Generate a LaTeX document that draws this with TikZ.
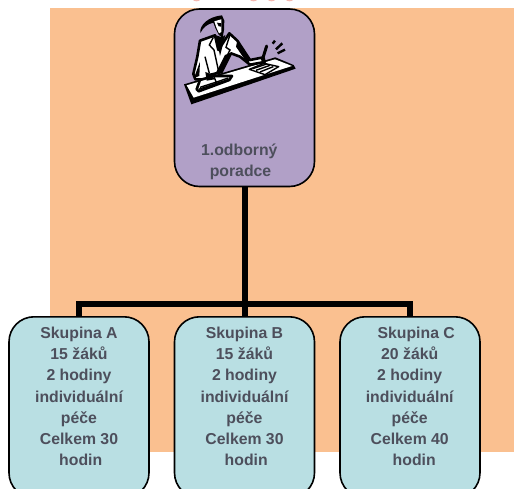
\documentclass[tikz,border=0pt]{standalone}
\usepackage{fontspec}
\setmainfont{Liberation Sans}
\definecolor{bgorange}{HTML}{FAC090}
\definecolor{boxpurple}{HTML}{B1A0C7}
\definecolor{boxteal}{HTML}{B9DFE3}
\definecolor{txtgrey}{HTML}{4D4F5C}
\definecolor{topPink}{HTML}{F4B8B0}
\tikzset{
  box/.style={draw=black,line width=1.6pt,rounded corners=25pt,minimum width=140pt,inner sep=0pt,
     font=\fontsize{15.8pt}{21.25pt}\bfseries\selectfont,text=txtgrey,align=center},
  groupbox/.style={box,fill=boxteal,minimum height=181pt,anchor=north,text height=0pt},
  conn/.style={draw=black,line width=6pt,line join=miter},
  paper/.style={fill=white,draw=black,line width=2.6pt,line join=round},
  thin/.style={draw=black,line width=1.4pt}
}
\begin{document}
\begin{tikzpicture}[x=1pt,y=-1pt]
\useasboundingbox (0,0) rectangle (514,489);
\clip (0,0) rectangle (514,489);
\fill[bgorange] (50,8) rectangle (514,452);
\foreach \xa in {196.5,253.5,271.5,289.5}
  \fill[topPink] (\xa,-0.3) ellipse [x radius=3.5pt,y radius=1.6pt];
\node[box,fill=boxpurple,minimum height=177.5pt,anchor=north] (top) at (244.5,8.2) {};
\node[font=\fontsize{15.8pt}{21.25pt}\bfseries\selectfont,text=txtgrey,align=center,inner sep=0pt] (toplabel) at (239.3,161.5) {1.odborný\\\hspace*{2.4pt}poradce};
\node[groupbox] (a) at (79,316) {};
\node[groupbox] (b) at (244.5,316) {};
\node[groupbox] (c) at (410,316) {};
\node[box,draw=none,minimum width=0pt,rounded corners=0pt] (ta) at (79,396.5) {Skupina A\\15 žáků\\2 hodiny\\individuální\\péče\\Celkem 30\\\hspace*{3.4pt}hodin};
\node[box,draw=none,minimum width=0pt,rounded corners=0pt] (tb) at (244.5,396.5) {Skupina B\\15 žáků\\2 hodiny\\individuální\\péče\\Celkem 30\\\hspace*{3.4pt}hodin};
\node[box,draw=none,minimum width=0pt,rounded corners=0pt] (tc) at (409.7,396.5) {\hspace*{13pt}Skupina C\\20 žáků\\2 hodiny\\individuální\\péče\\Celkem 40\\\hspace*{9pt}hodin};
\draw[conn] (top.south) -- (244.5,316.5);
\draw[conn] (a.north) |- (c.north |- 0,304) -- (c.north);
% clip-art figure, drawn in 3x coordinates of the purple box region
\begin{scope}[shift={(150,0)},x=0.3333pt,y=-0.3333pt]
  % desk
  \fill[black] (102,253) -- (124,313) -- (437,206) -- (431,195) -- (376,172) -- cycle;
  \fill[white] (110,256) -- (131,293) -- (426,198) -- (375,178) -- cycle;
  % body
  \path[paper] (150,122) -- (195,106) -- (205,150) -- (238,100) -- (262,122) -- (300,180) -- (340,172) -- (344,186) -- (300,194) -- (270,170) -- (243,160) -- (215,216) -- (178,225) -- (170,238) -- (136,238) -- (130,222) -- (142,170) -- cycle;
  \fill[black] (198,106) -- (210,168) -- (226,105) -- (216,112) -- cycle;
  \fill[black] (225,165) -- (243,158) -- (215,216) -- (196,222) -- cycle;
  \fill[black] (132,234) -- (150,185) -- (148,228) -- cycle;
  \fill[black] (262,122) -- (300,182) -- (292,190) -- (258,140) -- cycle;
  \draw[thin] (190,112) -- (178,135) -- (192,150) -- (205,210);
  \draw[thin] (240,104) -- (228,142) -- (240,150) -- (222,185);
  \draw[thin] (165,170) -- (178,220);
  % head
  \fill[black] (151,99) .. controls (148,75) and (175,50) .. (216,46) -- (223,62) -- (222,90) -- (218,114) -- (206,104) -- (196,84) -- (190,68) .. controls (172,72) and (160,82) .. cycle;
  \fill[white] (193,64) -- (214,58) -- (214,96) -- (207,100) -- (199,82) -- cycle;
  \fill[black] (201,68) -- (214,70) -- (214,80) -- (206,79) -- cycle;
  % book
  \path[paper] (140,268) -- (150,240) -- (192,228) -- (246,228) -- (238,240) -- (146,274) -- cycle;
  \draw[thin] (150,262) -- (200,246) -- (235,234);
  \draw[thin] (146,268) -- (200,250) -- (238,238);
  \draw[thin] (192,230) -- (200,250);
  \fill[black] (166,216) -- (182,222) -- (194,238) -- (170,242) -- cycle;
  % note pad
  \path[paper,line width=1.4pt] (298,208) -- (345,224) -- (386,200) -- (342,190) -- cycle;
  \draw[thin] (308,206) -- (350,192);
  \draw[thin] (318,211) -- (360,196);
  \draw[thin] (330,216) -- (370,200);
  % pen and sparks
  \draw[line width=3pt,line cap=round] (337,180) -- (350,138);
  \draw[line width=2.4pt] (368,131) -- (375,122);
  \draw[line width=2.4pt] (378,148) -- (397,130);
  \draw[line width=2.4pt] (383,160) -- (405,149);
\end{scope}
\end{tikzpicture}
\end{document}
